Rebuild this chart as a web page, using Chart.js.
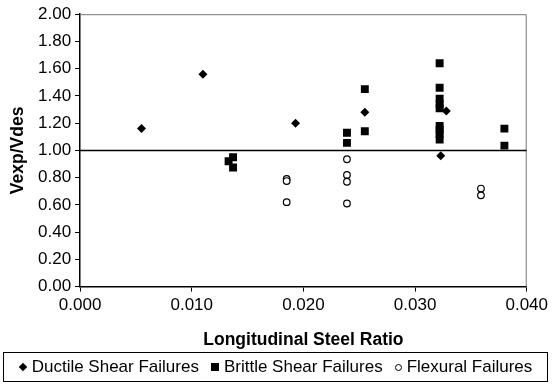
<!DOCTYPE html>
<html>
<head>
<meta charset="utf-8">
<script src="https://cdn.jsdelivr.net/npm/chart.js@4/dist/chart.umd.min.js"></script>
<style>
  html, body { margin: 0; padding: 0; background: #fff; }
  #wrap { position: relative; width: 552px; height: 384px; }
  #legend {
    position: absolute; left: 3px; top: 352px; width: 543px; height: 28px;
    border: 1px solid #000; box-sizing: content-box;
    font: 17px 'Liberation Sans', Arial, sans-serif; color: #000;
    display: flex; align-items: center; justify-content: center; white-space: nowrap;
  }
  #legend .item { display: flex; align-items: center; margin: 0 6px; }
  #legend .mk { display: inline-block; margin-right: 5px; box-sizing: border-box; }
  #legend .rectRot { width: 6px; height: 6px; background: #000; transform: rotate(45deg); margin-left: 1px; margin-right: 6px; }
  #legend .rect { width: 8px; height: 8px; background: #000; }
  #legend .circle { width: 7px; height: 7px; border: 1px solid #000; border-radius: 50%; background: #fff; }
</style>
</head>
<body>
<div id="wrap">
  <canvas id="myChart" width="552" height="384"></canvas>
  <div id="legend"></div>
</div>
<script>
// values
let ductileX = [0.0055, 0.0110, 0.0193, 0.0255, 0.0328, 0.0323];
let ductileY = [1.16, 1.56, 1.20, 1.28, 1.29, 0.96];

let brittleX = [0.0133, 0.0137, 0.0137, 0.0239, 0.0239, 0.0255, 0.0255,
                0.0322, 0.0322, 0.0322, 0.0322, 0.0322, 0.0322, 0.0322, 0.0322, 0.0322,
                0.0380, 0.0380];
let brittleY = [0.92, 0.95, 0.875, 1.13, 1.055, 1.45, 1.14,
                1.64, 1.46, 1.38, 1.34, 1.31, 1.18, 1.15, 1.12, 1.08,
                1.16, 1.035];

let flexX = [0.0185, 0.0185, 0.0185, 0.0239, 0.0239, 0.0239, 0.0239, 0.0359, 0.0359];
let flexY = [0.79, 0.775, 0.62, 0.935, 0.82, 0.77, 0.61, 0.72, 0.67];

let refX = [0.0, 0.04];
let refY = [1.0, 1.0];

let yTicks = [0, 0.2, 0.4, 0.6, 0.8, 1.0, 1.2, 1.4, 1.6, 1.8, 2.0];
let xTicks = [0, 0.01, 0.02, 0.03, 0.04];

function pts(xs, ys) {
    return xs.map(function (x, i) { return {x: x, y: ys[i]}; });
}

Chart.defaults.font.family = "'Liberation Sans', Arial, sans-serif";
Chart.defaults.color = "#000";

// grey frame on top/right of the plot
const framePlugin = {
    id: "frame",
    beforeDatasetsDraw: function (chart) {
        const a = chart.chartArea, ctx = chart.ctx;
        ctx.save();
        ctx.strokeStyle = "#777";
        ctx.lineWidth = 1;
        ctx.beginPath();
        ctx.moveTo(a.left, a.top + 0.5);
        ctx.lineTo(a.right - 0.5, a.top + 0.5);
        ctx.lineTo(a.right - 0.5, a.bottom);
        ctx.stroke();
        ctx.restore();
    }
};

const chart = new Chart("myChart", {
    type: "scatter",
    data: {
        datasets: [{
            label: "Ductile Shear Failures",
            data: pts(ductileX, ductileY),
            pointStyle: "rectRot",
            pointRadius: 4.5,
            backgroundColor: "#000",
            borderColor: "#000",
            borderWidth: 0
        }, {
            label: "Brittle Shear Failures",
            data: pts(brittleX, brittleY),
            pointStyle: "rect",
            pointRadius: 5.6,
            backgroundColor: "#000",
            borderColor: "#000",
            borderWidth: 0
        }, {
            label: "Flexural Failures",
            data: pts(flexX, flexY),
            pointStyle: "circle",
            pointRadius: 3.3,
            backgroundColor: "#fff",
            borderColor: "#000",
            borderWidth: 1.2
        }, {
            type: "line",
            label: "ref",
            data: pts(refX, refY),
            borderColor: "#000",
            borderWidth: 1.5,
            pointRadius: 0,
            fill: false
        }]
    },
    options: {
        responsive: false,
        animation: false,
        layout: {padding: {left: 8, right: 19, top: 11, bottom: 31}},
        plugins: {
            tooltip: {enabled: false},
            legend: {display: false}
        },
        scales: {
            x: {
                type: "linear",
                min: 0,
                max: 0.04,
                afterBuildTicks: function (axis) {
                    axis.ticks = xTicks.map(function (v) { return {value: v}; });
                },
                ticks: {
                    font: {size: 17},
                    padding: 4,
                    callback: function (v) { return v.toFixed(3); }
                },
                grid: {drawOnChartArea: false, drawTicks: true, tickLength: 5, color: "#000"},
                border: {color: "#000", width: 1.5},
                title: {display: true, text: "Longitudinal Steel Ratio", font: {size: 17.5, weight: "bold"}, padding: {top: 10, bottom: 2}}
            },
            y: {
                min: 0,
                max: 2,
                afterBuildTicks: function (axis) {
                    axis.ticks = yTicks.map(function (v) { return {value: v}; });
                },
                ticks: {
                    font: {size: 17},
                    padding: 4,
                    callback: function (v) { return v.toFixed(2); }
                },
                grid: {drawOnChartArea: false, drawTicks: true, tickLength: 5, color: "#000"},
                border: {color: "#000", width: 1.5},
                title: {display: true, text: "Vexp/Vdes", font: {size: 17.5, weight: "bold"}, padding: {top: 0, bottom: 5}}
            }
        }
    },
    plugins: [framePlugin]
});

// html legend built from the datasets
const legendEl = document.getElementById("legend");
chart.data.datasets.forEach(function (ds) {
    if (ds.label === "ref") return;
    const item = document.createElement("span");
    item.className = "item";
    const mk = document.createElement("span");
    mk.className = "mk " + ds.pointStyle;
    item.appendChild(mk);
    item.appendChild(document.createTextNode(ds.label));
    legendEl.appendChild(item);
});
</script>
</body>
</html>
